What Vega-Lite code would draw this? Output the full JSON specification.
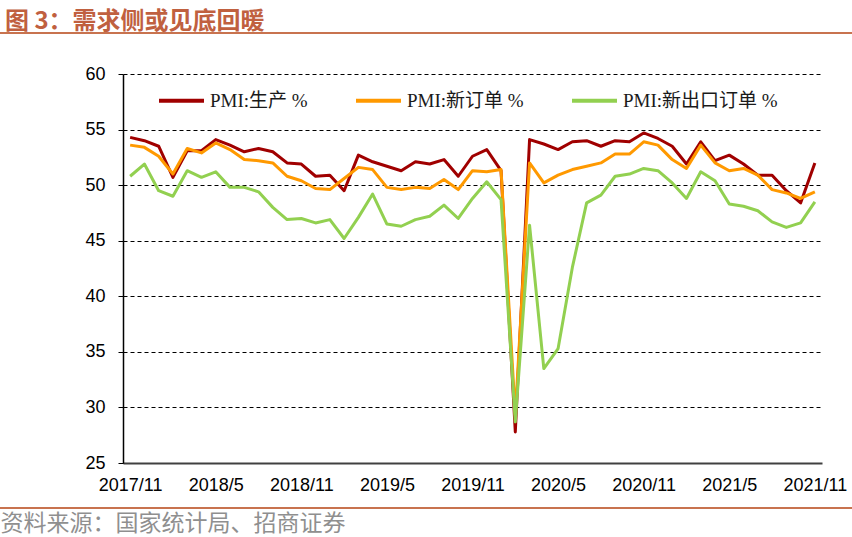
{
  "$schema": "https://vega.github.io/schema/vega-lite/v6.json",
  "width": 699,
  "height": 389,
  "autosize": "none",
  "padding": {"left": 123, "top": 74, "right": 30, "bottom": 74},
  "background": "white",
  "title": {
    "text": "图 3：需求侧或见底回暖",
    "anchor": "start",
    "frame": "group",
    "dx": -118,
    "dy": 3,
    "offset": 1,
    "font": "Noto Sans CJK SC",
    "fontSize": 24,
    "fontWeight": "bold",
    "color": "#C0603F"
  },
  "config": {
    "view": {"stroke": null},
    "font": "Liberation Sans"
  },
  "data": {
    "values": [
      {"month": "2017/11", "prod": 54.3, "neworder": 53.6, "export": 50.8},
      {"month": "2017/12", "prod": 54.0, "neworder": 53.4, "export": 51.9},
      {"month": "2018/1", "prod": 53.5, "neworder": 52.6, "export": 49.5},
      {"month": "2018/2", "prod": 50.7, "neworder": 51.0, "export": 49.0},
      {"month": "2018/3", "prod": 53.1, "neworder": 53.3, "export": 51.3},
      {"month": "2018/4", "prod": 53.1, "neworder": 52.9, "export": 50.7},
      {"month": "2018/5", "prod": 54.1, "neworder": 53.8, "export": 51.2},
      {"month": "2018/6", "prod": 53.6, "neworder": 53.2, "export": 49.8},
      {"month": "2018/7", "prod": 53.0, "neworder": 52.3, "export": 49.8},
      {"month": "2018/8", "prod": 53.3, "neworder": 52.2, "export": 49.4},
      {"month": "2018/9", "prod": 53.0, "neworder": 52.0, "export": 48.0},
      {"month": "2018/10", "prod": 52.0, "neworder": 50.8, "export": 46.9},
      {"month": "2018/11", "prod": 51.9, "neworder": 50.4, "export": 47.0},
      {"month": "2018/12", "prod": 50.8, "neworder": 49.7, "export": 46.6},
      {"month": "2019/1", "prod": 50.9, "neworder": 49.6, "export": 46.9},
      {"month": "2019/2", "prod": 49.5, "neworder": 50.6, "export": 45.2},
      {"month": "2019/3", "prod": 52.7, "neworder": 51.6, "export": 47.1},
      {"month": "2019/4", "prod": 52.1, "neworder": 51.4, "export": 49.2},
      {"month": "2019/5", "prod": 51.7, "neworder": 49.8, "export": 46.5},
      {"month": "2019/6", "prod": 51.3, "neworder": 49.6, "export": 46.3},
      {"month": "2019/7", "prod": 52.1, "neworder": 49.8, "export": 46.9},
      {"month": "2019/8", "prod": 51.9, "neworder": 49.7, "export": 47.2},
      {"month": "2019/9", "prod": 52.3, "neworder": 50.5, "export": 48.2},
      {"month": "2019/10", "prod": 50.8, "neworder": 49.6, "export": 47.0},
      {"month": "2019/11", "prod": 52.6, "neworder": 51.3, "export": 48.8},
      {"month": "2019/12", "prod": 53.2, "neworder": 51.2, "export": 50.3},
      {"month": "2020/1", "prod": 51.3, "neworder": 51.4, "export": 48.7},
      {"month": "2020/2", "prod": 27.8, "neworder": 29.3, "export": 28.7},
      {"month": "2020/3", "prod": 54.1, "neworder": 52.0, "export": 46.4},
      {"month": "2020/4", "prod": 53.7, "neworder": 50.2, "export": 33.5},
      {"month": "2020/5", "prod": 53.2, "neworder": 50.9, "export": 35.3},
      {"month": "2020/6", "prod": 53.9, "neworder": 51.4, "export": 42.6},
      {"month": "2020/7", "prod": 54.0, "neworder": 51.7, "export": 48.4},
      {"month": "2020/8", "prod": 53.5, "neworder": 52.0, "export": 49.1},
      {"month": "2020/9", "prod": 54.0, "neworder": 52.8, "export": 50.8},
      {"month": "2020/10", "prod": 53.9, "neworder": 52.8, "export": 51.0},
      {"month": "2020/11", "prod": 54.7, "neworder": 53.9, "export": 51.5},
      {"month": "2020/12", "prod": 54.2, "neworder": 53.6, "export": 51.3},
      {"month": "2021/1", "prod": 53.5, "neworder": 52.3, "export": 50.2},
      {"month": "2021/2", "prod": 51.9, "neworder": 51.5, "export": 48.8},
      {"month": "2021/3", "prod": 53.9, "neworder": 53.6, "export": 51.2},
      {"month": "2021/4", "prod": 52.2, "neworder": 52.0, "export": 50.4},
      {"month": "2021/5", "prod": 52.7, "neworder": 51.3, "export": 48.3},
      {"month": "2021/6", "prod": 51.9, "neworder": 51.5, "export": 48.1},
      {"month": "2021/7", "prod": 50.9, "neworder": 50.9, "export": 47.7},
      {"month": "2021/8", "prod": 50.9, "neworder": 49.6, "export": 46.7},
      {"month": "2021/9", "prod": 49.5, "neworder": 49.3, "export": 46.2},
      {"month": "2021/10", "prod": 48.4, "neworder": 48.8, "export": 46.6},
      {"month": "2021/11", "prod": 52.0, "neworder": 49.4, "export": 48.5}
    ]
  },
  "layer": [
    {
      "mark": {"type": "rule", "color": "#C8734F", "strokeWidth": 2},
      "encoding": {
        "y": {"datum": 63.7, "type": "quantitative"},
        "x": {"value": -123},
        "x2": {"value": 729}
      }
    },
    {
      "mark": {"type": "rule", "color": "#C8734F", "strokeWidth": 2},
      "encoding": {
        "y": {"datum": 20.95, "type": "quantitative"},
        "x": {"value": -123},
        "x2": {"value": 729}
      }
    },
    {
      "transform": [
        {"fold": ["prod", "neworder", "export"], "as": ["series", "value"]}
      ],
      "mark": {"type": "line", "strokeWidth": 3, "strokeJoin": "round"},
      "encoding": {
        "x": {
          "field": "month",
          "type": "ordinal",
          "sort": null,
          "scale": {"type": "point", "padding": 0.5},
          "axis": {
            "values": ["2017/11", "2018/5", "2018/11", "2019/5", "2019/11", "2020/5", "2020/11", "2021/5", "2021/11"],
            "labelAngle": 0,
            "labelFont": "Liberation Sans",
            "labelFontSize": 18,
            "labelColor": "#000000",
            "labelPadding": 13,
            "labelOverlap": false,
            "labelBound": false,
            "labelFlush": false,
            "ticks": false,
            "grid": false,
            "domainColor": "#404040",
            "domainWidth": 2,
            "title": "资料来源：国家统计局、招商证券",
            "titleX": -123,
            "titleY": 60,
            "titleAlign": "left",
            "titleAnchor": "start",
            "titleBaseline": "middle",
            "titleFont": "Noto Sans CJK SC",
            "titleFontSize": 23,
            "titleFontWeight": "normal",
            "titleColor": "#8f8f8f"
          }
        },
        "y": {
          "field": "value",
          "type": "quantitative",
          "scale": {"domain": [25, 60], "nice": false, "zero": false},
          "axis": {
            "values": [25, 30, 35, 40, 45, 50, 55, 60],
            "title": null,
            "grid": true,
            "gridDash": [4, 3],
            "gridColor": "#000000",
            "gridWidth": 1,
            "domainColor": "#000000",
            "domainWidth": 1.5,
            "tickColor": "#000000",
            "tickSize": 5,
            "labelFont": "Liberation Sans",
            "labelFontSize": 18,
            "labelColor": "#000000",
            "labelPadding": 13
          }
        },
        "color": {
          "field": "series",
          "type": "nominal",
          "sort": null,
          "scale": {
            "domain": ["prod", "neworder", "export"],
            "range": ["#A00000", "#FF9900", "#92D050"]
          },
          "legend": {
            "title": null,
            "orient": "none",
            "legendX": 34,
            "legendY": 2,
            "direction": "horizontal",
            "padding": 0,
            "symbolType": "stroke",
            "symbolSize": 2025,
            "symbolStrokeWidth": 4,
            "labelOffset": 4,
            "columnPadding": 40,
            "labelFont": "Liberation Serif, Noto Sans CJK SC",
            "labelFontSize": 19,
            "labelColor": "#1a1a1a",
            "labelLimit": 300,
            "labelExpr": "datum.label == 'prod' ? 'PMI:生产 %' : datum.label == 'neworder' ? 'PMI:新订单 %' : 'PMI:新出口订单 %'"
          }
        }
      }
    }
  ]
}
